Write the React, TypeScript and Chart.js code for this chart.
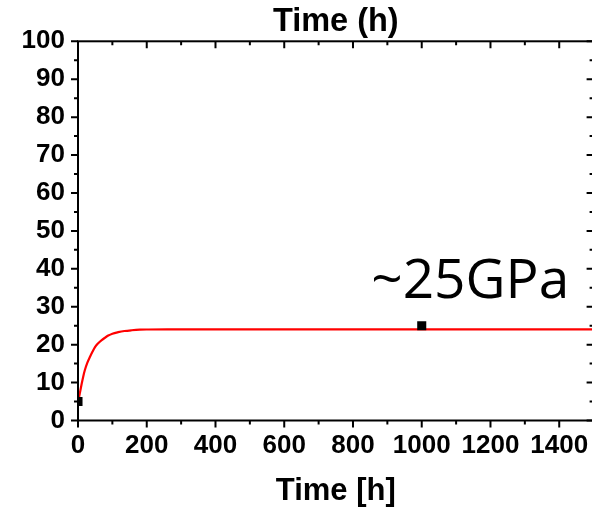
import React, { useEffect, useRef } from "react";
import { Chart, registerables } from "chart.js";

Chart.register(...registerables);

// Fitted curve (red)
const FIT_T = [0, 3, 7, 11, 15, 20, 27, 35, 42, 49, 58, 69, 78, 88, 100, 117, 135, 156, 180, 204, 260, 350, 500, 700, 900, 1100, 1300, 1500];
const FIT_V = [5.0, 6.1, 8.0, 9.8, 11.5, 13.3, 15.2, 16.8, 18.1, 19.3, 20.3, 21.2, 21.8, 22.4, 22.9, 23.3, 23.6, 23.8, 23.95, 24.0, 24.05, 24.05, 24.05, 24.05, 24.05, 24.05, 24.05, 24.05];

// Measured points (black squares)
const MEAS_T = [0, 1000];
const MEAS_V = [5, 25];

// Ticks
const X_TICKS = [0, 200, 400, 600, 800, 1000, 1200, 1400];
const X_MINOR = [100, 300, 500, 700, 900, 1100, 1300];
const Y_TICKS = [0, 10, 20, 30, 40, 50, 60, 70, 80, 90, 100];
const Y_MINOR = [5, 15, 25, 35, 45, 55, 65, 75, 85, 95];

const X_MIN = 0;
const X_MAX = 1500;
const Y_MIN = 0;
const Y_MAX = 100;

const X_TITLE = "Time [h]";
const TOP_TITLE = "Time (h)";
const ANNOTATION = "~25GPa";
const ANNOT_T = 1141;
const ANNOT_V = 32.3;

const FONT = '"Liberation Sans", Arial, sans-serif';

const framePlugin = {
  id: "frame",
  afterDatasetsDraw(chart: any) {
    const { ctx, chartArea: a, scales } = chart;
    const xs = scales.x;
    const ys = scales.y;
    const MAJ = 7;
    const MIN = 4;
    ctx.save();
    ctx.strokeStyle = "#000";
    ctx.lineWidth = 2;
    ctx.strokeRect(a.left, a.top, a.right - a.left, a.bottom - a.top);
    ctx.beginPath();
    const xt = (vals: number[], len: number) => {
      for (const v of vals) {
        const px = xs.getPixelForValue(v);
        ctx.moveTo(px, a.bottom);
        ctx.lineTo(px, a.bottom + len);
        ctx.moveTo(px, a.top);
        ctx.lineTo(px, a.top + len);
      }
    };
    const yt = (vals: number[], len: number) => {
      for (const v of vals) {
        const py = ys.getPixelForValue(v);
        ctx.moveTo(a.left, py);
        ctx.lineTo(a.left - len, py);
        ctx.moveTo(a.right, py);
        ctx.lineTo(a.right - len, py);
      }
    };
    xt(X_TICKS, MAJ);
    xt(X_MINOR, MIN);
    yt(Y_TICKS, MAJ);
    yt(Y_MINOR, MIN);
    ctx.stroke();

    ctx.fillStyle = "#000";
    ctx.font = '55px "Open Sans", sans-serif';
    ctx.textAlign = "center";
    ctx.textBaseline = "alphabetic";
    ctx.fillText(ANNOTATION, xs.getPixelForValue(ANNOT_T), ys.getPixelForValue(ANNOT_V));
    ctx.restore();
  },
};

export default function App() {
  const ref = useRef<HTMLCanvasElement | null>(null);

  useEffect(() => {
    if (!ref.current) return;
    const fitData = FIT_T.map((t, i) => ({ x: t, y: FIT_V[i] }));
    const measData = MEAS_T.map((t, i) => ({ x: t, y: MEAS_V[i] }));
    const tickFont = { family: FONT, size: 26, weight: "bold" as const };
    const plain = (v: any) => String(v);

    const chart = new Chart(ref.current, {
      type: "scatter",
      data: {
        datasets: [
          {
            label: "measured",
            data: measData,
            pointStyle: "rect",
            pointRadius: 6.4,
            backgroundColor: "#000",
            borderWidth: 0,
            showLine: false,
            clip: 0,
            xAxisID: "x",
            yAxisID: "y",
          },
          {
            label: "fit",
            data: fitData,
            showLine: true,
            borderColor: "#ff0000",
            borderWidth: 2.2,
            pointRadius: 0,
            cubicInterpolationMode: "monotone",
            clip: 0,
            xAxisID: "x",
            yAxisID: "y",
          },
        ],
      },
      options: {
        animation: false,
        responsive: false,
        events: [],
        layout: { padding: { left: 0, top: 0, right: 6, bottom: 0 } },
        plugins: {
          legend: { display: false },
          tooltip: { enabled: false },
          title: { display: false },
        },
        scales: {
          x: {
            type: "linear",
            position: "bottom",
            min: X_MIN,
            max: X_MAX,
            afterBuildTicks: (s: any) => {
              s.ticks = X_TICKS.map((v) => ({ value: v }));
            },
            ticks: {
              font: tickFont,
              color: "#000",
              padding: 10,
              maxRotation: 0,
              autoSkip: false,
              callback: plain,
            },
            grid: { display: false, drawTicks: false, tickLength: 0 },
            border: { display: false },
            title: {
              display: true,
              text: X_TITLE,
              color: "#000",
              font: { family: FONT, size: 31, weight: "bold", lineHeight: 1.1 },
              padding: { top: 0, bottom: 0 },
            },
            afterFit: (s: any) => {
              s.height = 88.5;
              s.paddingLeft = 0;
              s.paddingRight = 0;
            },
          },
          x2: {
            type: "linear",
            position: "top",
            min: X_MIN,
            max: X_MAX,
            ticks: { display: false },
            grid: { display: false, drawTicks: false, tickLength: 0 },
            border: { display: false },
            title: {
              display: true,
              text: TOP_TITLE,
              color: "#000",
              font: { family: FONT, size: 32.5, weight: "bold", lineHeight: 1.2 },
              padding: { top: 3, bottom: 0 },
            },
            afterFit: (s: any) => {
              s.height = 41.3;
              s.paddingLeft = 0;
              s.paddingRight = 0;
            },
          },
          y: {
            type: "linear",
            position: "left",
            min: Y_MIN,
            max: Y_MAX,
            afterBuildTicks: (s: any) => {
              s.ticks = Y_TICKS.map((v) => ({ value: v }));
            },
            ticks: { font: tickFont, color: "#000", padding: 13, callback: plain },
            grid: { display: false, drawTicks: false, tickLength: 0 },
            border: { display: false },
            afterFit: (s: any) => {
              s.width = 78;
              s.paddingTop = 0;
              s.paddingBottom = 0;
            },
          },
        },
      } as any,
      plugins: [framePlugin],
    });
    return () => chart.destroy();
  }, []);

  return (
    <div
      style={{
        position: "absolute",
        left: 0,
        top: 0,
        width: 592,
        height: 509,
        overflow: "hidden",
        background: "#fff",
      }}
    >
      <canvas ref={ref} width={600} height={509} style={{ display: "block" }} />
    </div>
  );
}
